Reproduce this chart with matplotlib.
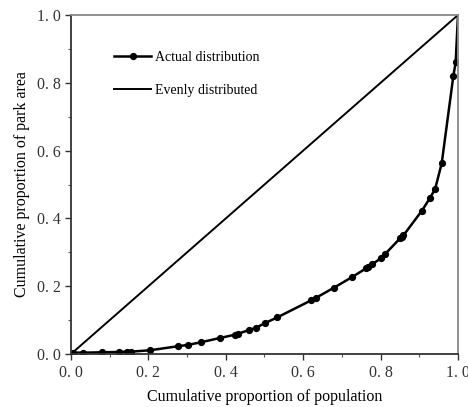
import matplotlib
matplotlib.use('Agg')
import matplotlib.pyplot as plt
import numpy as np
from matplotlib.ticker import MultipleLocator, FixedLocator

# 洛伦兹曲线数据
pop = [0.006, 0.032, 0.079, 0.125, 0.144, 0.155, 0.204, 0.277, 0.303, 0.337,
       0.384, 0.424, 0.432, 0.461, 0.479, 0.501, 0.533, 0.620, 0.632, 0.680,
       0.725, 0.763, 0.768, 0.779, 0.800, 0.811, 0.851, 0.856, 0.859, 0.907,
       0.928, 0.941, 0.958, 0.988, 0.994, 1.0]
area = [0.004, 0.004, 0.005, 0.006, 0.007, 0.007, 0.011, 0.023, 0.027, 0.035,
        0.047, 0.057, 0.060, 0.071, 0.078, 0.091, 0.108, 0.158, 0.165, 0.196,
        0.226, 0.253, 0.256, 0.265, 0.282, 0.294, 0.342, 0.346, 0.350, 0.423,
        0.461, 0.487, 0.563, 0.820, 0.860, 1.0]
even = [0.0, 1.0]
ticks = [0.0, 0.2, 0.4, 0.6, 0.8, 1.0]
tick_labels = ['0. 0', '0. 2', '0. 4', '0. 6', '0. 8', '1. 0']

plt.rcParams['font.family'] = ['Liberation Serif', 'DejaVu Serif']

fig = plt.figure(figsize=(4.68, 4.07), dpi=100)
ax = fig.add_axes([0.1517, 0.1302, 0.8269, 0.8329])

ax.plot(pop, area, color='black', lw=1.8, marker='o', markersize=4.2,
        markevery=list(range(len(pop) - 1)), label='Actual distribution')
ax.plot(even, even, color='black', lw=1.4, label='Evenly distributed')

ax.set_xlim(0, 1)
ax.set_ylim(0, 1)
ax.xaxis.set_major_locator(FixedLocator(ticks))
ax.yaxis.set_major_locator(FixedLocator(ticks))
ax.set_xticklabels(tick_labels, fontsize=11.5, color='#333333')
ax.set_yticklabels(tick_labels, fontsize=11.5, color='#333333')
ax.xaxis.set_minor_locator(MultipleLocator(0.1))
ax.yaxis.set_minor_locator(MultipleLocator(0.1))
ax.tick_params(which='major', direction='out', length=4, width=1, color='#333333')
ax.tick_params(which='minor', direction='out', length=2.5, width=0.8, color='#555555')
ax.tick_params(axis='x', pad=4)

for s in ['left', 'bottom']:
    ax.spines[s].set_color('#333333')
    ax.spines[s].set_linewidth(1.3)
for s in ['top', 'right']:
    ax.spines[s].set_color('#888888')
    ax.spines[s].set_linewidth(1.3)

ax.set_xlabel('Cumulative proportion of population', fontsize=11.5, labelpad=6)
ax.set_ylabel('Cumulative proportion of park area', fontsize=11.5, labelpad=5)

ax.legend(loc='upper left', bbox_to_anchor=(0.08, 0.93), frameon=False,
          fontsize=10, handlelength=2.6, handletextpad=0.3, labelspacing=1.4)

fig.savefig('out.png', dpi=100)
